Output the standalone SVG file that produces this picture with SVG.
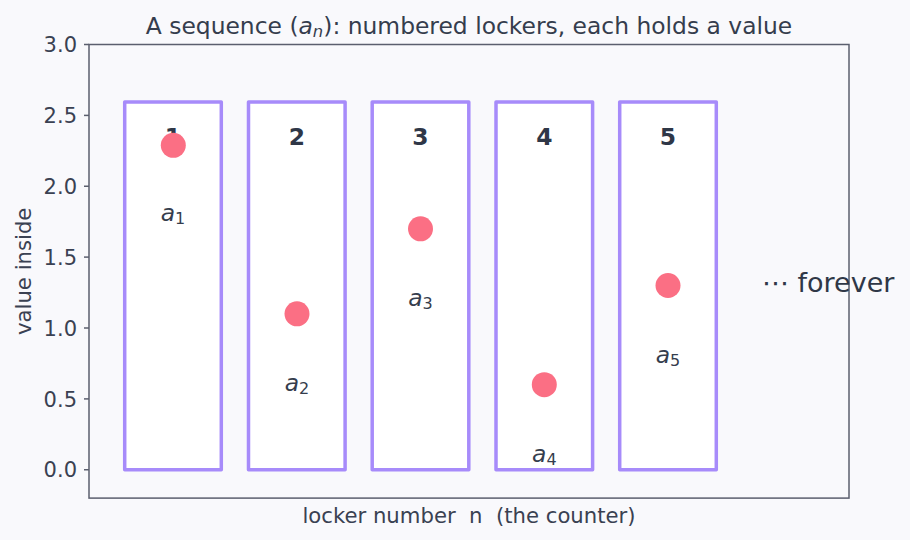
<svg xmlns="http://www.w3.org/2000/svg" width="910" height="540" viewBox="0 0 910 540">
  <style>
    text { font-family: "DejaVu Sans", "Liberation Sans", sans-serif; fill: #2f3747; }
    .tick { font-size: 21px; text-anchor: end; fill: #3a4152; }
    .axlabel { font-size: 21.2px; text-anchor: middle; fill: #3a4152; }
    .title { font-size: 23.4px; text-anchor: middle; fill: #353d4d; }
    .num { font-size: 23.4px; font-weight: bold; text-anchor: middle; }
    .sub { font-size: 23.4px; text-anchor: middle; fill: #353d4d; }
    .locker { fill: #ffffff; stroke: #a78bfa; stroke-width: 3.5; stroke-linejoin: round; }
    .dot { fill: #fb6f84; }
    .spine { fill: none; stroke: #5b5f6e; stroke-width: 1.5; }
    .tk { stroke: #5b5f6e; stroke-width: 1.5; }
  </style>
  <rect x="0" y="0" width="910" height="540" fill="#f9f9fc"/>

  <g id="lockers">
    <g id="locker-1">
      <rect class="locker" x="124.7" y="102" width="96.6" height="367.75"/>
      <text class="num" x="173" y="145">1</text>
      <circle class="dot" cx="173.3" cy="145.3" r="12.5"/>
      <text class="sub" x="173" y="221"><tspan font-style="italic">a</tspan><tspan font-size="16px" dy="3">1</tspan></text>
    </g>
    <g id="locker-2">
      <rect class="locker" x="248.5" y="102" width="96.6" height="367.75"/>
      <text class="num" x="297" y="145">2</text>
      <circle class="dot" cx="297" cy="313.8" r="12.5"/>
      <text class="sub" x="297" y="391"><tspan font-style="italic">a</tspan><tspan font-size="16px" dy="3">2</tspan></text>
    </g>
    <g id="locker-3">
      <rect class="locker" x="372.2" y="102" width="96.6" height="367.75"/>
      <text class="num" x="420.5" y="145">3</text>
      <circle class="dot" cx="420.5" cy="228.8" r="12.5"/>
      <text class="sub" x="420.5" y="306"><tspan font-style="italic">a</tspan><tspan font-size="16px" dy="3">3</tspan></text>
    </g>
    <g id="locker-4">
      <rect class="locker" x="496" y="102" width="96.6" height="367.75"/>
      <text class="num" x="544.3" y="145">4</text>
      <circle class="dot" cx="544.3" cy="384.7" r="12.5"/>
      <text class="sub" x="544.3" y="462"><tspan font-style="italic">a</tspan><tspan font-size="16px" dy="3">4</tspan></text>
    </g>
    <g id="locker-5">
      <rect class="locker" x="619.7" y="102" width="96.6" height="367.75"/>
      <text class="num" x="668" y="145">5</text>
      <circle class="dot" cx="668" cy="285.5" r="12.5"/>
      <text class="sub" x="668" y="363"><tspan font-style="italic">a</tspan><tspan font-size="16px" dy="3">5</tspan></text>
    </g>
  </g>

  <g id="axes">
    <rect class="spine" x="89" y="44.5" width="760" height="453.6"/>
    <line class="tk" x1="84" y1="469.75" x2="89" y2="469.75"/>
    <line class="tk" x1="84" y1="398.9" x2="89" y2="398.9"/>
    <line class="tk" x1="84" y1="328" x2="89" y2="328"/>
    <line class="tk" x1="84" y1="257.1" x2="89" y2="257.1"/>
    <line class="tk" x1="84" y1="186.25" x2="89" y2="186.25"/>
    <line class="tk" x1="84" y1="115.4" x2="89" y2="115.4"/>
    <line class="tk" x1="84" y1="44.5" x2="89" y2="44.5"/>
    <text class="tick" x="77" y="477.4">0.0</text>
    <text class="tick" x="77" y="406.6">0.5</text>
    <text class="tick" x="77" y="335.7">1.0</text>
    <text class="tick" x="77" y="264.8">1.5</text>
    <text class="tick" x="77" y="193.9">2.0</text>
    <text class="tick" x="77" y="123.1">2.5</text>
    <text class="tick" x="77" y="52.2">3.0</text>
    <text class="axlabel" transform="translate(31,271.3) rotate(-90)">value inside</text>
    <text class="axlabel" x="469" y="522.5" xml:space="preserve">locker number  n  (the counter)</text>
  </g>

  <g id="forever">
    <text x="762" y="292" font-size="27px">⋯ forever</text>
  </g>

  <g id="title">
    <text class="title" x="469" y="34">A sequence (<tspan font-style="italic">a</tspan><tspan font-size="16.4px" font-style="italic" dy="3">n</tspan><tspan dy="-3">): numbered lockers, each holds a value</tspan></text>
  </g>
</svg>
